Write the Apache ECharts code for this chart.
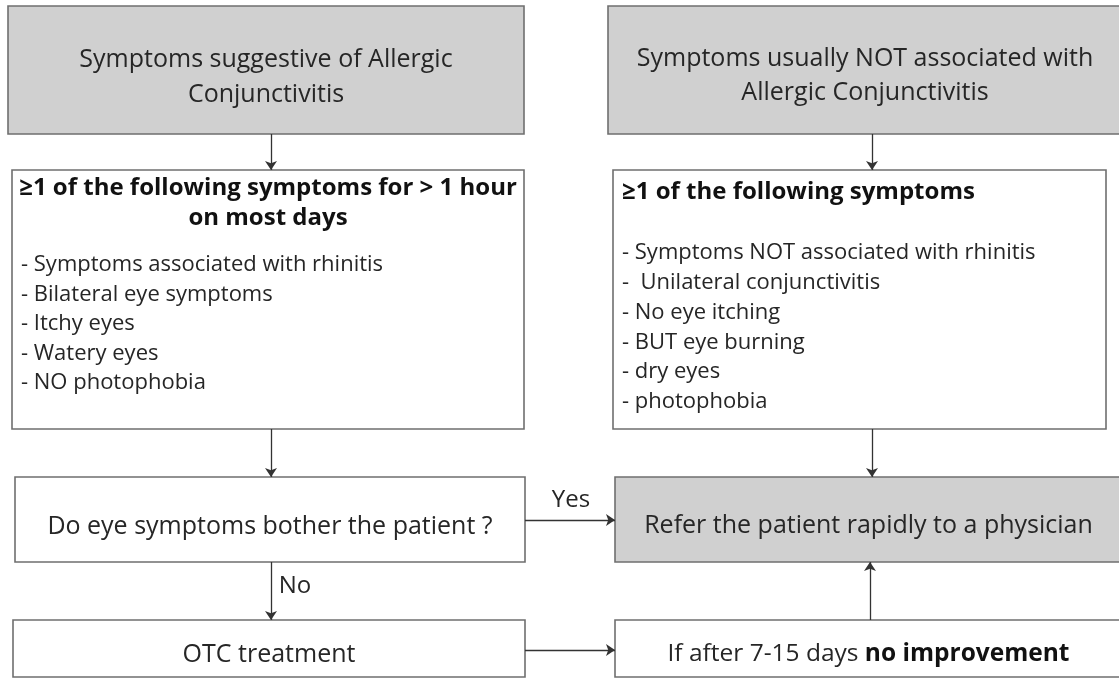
<!DOCTYPE html>
<html>
<head>
<meta charset="utf-8">
<script src="https://cdn.jsdelivr.net/npm/echarts@6/dist/echarts.min.js"></script>
<style>
  html, body { margin: 0; padding: 0; background: #fff; }
  #flow { width: 1119px; height: 679px; }
</style>
</head>
<body>
<div id="flow"></div>
<script>
// texts of the flowchart
const startTitles = [
    'Symptoms suggestive of Allergic\nConjunctivitis',
    'Symptoms usually NOT associated with\nAllergic Conjunctivitis'
]
const leftHeading = '≥1 of the following symptoms for > 1 hour\non most days'
const leftSymptoms = [
    '- Symptoms associated with rhinitis',
    '- Bilateral eye symptoms',
    '- Itchy eyes',
    '- Watery eyes',
    '- NO photophobia'
]
const rightHeading = '≥1 of the following symptoms'
const rightSymptoms = [
    '- Symptoms NOT associated with rhinitis',
    '-  Unilateral conjunctivitis',
    '- No eye itching',
    '- BUT eye burning',
    '- dry eyes',
    '- photophobia'
]
const question = 'Do eye symptoms bother the patient ?'
const referText = 'Refer the patient rapidly to a physician'
const otcText = 'OTC treatment'
const followUp = ['If after 7-15 days ', 'no improvement']
const branchLabels = ['Yes', 'No']

// layout (canvas pixels, used through hidden value axes)
const boxLayout = [
    { rect: [8, 6, 524, 134], fill: '#d0d0d0' },
    { rect: [608, 6, 1122, 134], fill: '#d0d0d0' },
    { rect: [12, 170, 524, 429], fill: '#fff' },
    { rect: [613, 170, 1106, 429], fill: '#fff' },
    { rect: [15, 477, 525, 562], fill: '#fff' },
    { rect: [615, 477, 1122, 562], fill: '#d0d0d0' },
    { rect: [13, 620, 525, 677], fill: '#fff' },
    { rect: [615, 620, 1122, 677], fill: '#fff' }
]
const arrowLayout = [
    [[271, 134], [271, 170]],
    [[872, 134], [872, 170]],
    [[271, 429], [271, 477]],
    [[872, 429], [872, 477]],
    [[525, 520], [615, 520]],
    [[271, 562], [271, 620]],
    [[525, 650], [615, 650]],
    [[870, 620], [870, 562]]
]
const branchPos = [[571, 500], [295, 586]]

const FONT = '"Open Sans", Lato, sans-serif'
const INK = '#262626'

// what goes in each box
var boxTexts = [
    { kind: 'center', text: startTitles[0], size: 25, lh: 35, dy: 7 },
    { kind: 'center', text: startTitles[1], size: 25, lh: 34, dy: 6 },
    { kind: 'list', heading: leftHeading, headAlign: 'center', headY: 203, list: leftSymptoms, listTop: 265, step: 29.5 },
    { kind: 'list', heading: rightHeading, headAlign: 'left', headY: 192, list: rightSymptoms, listTop: 253, step: 29.8 },
    { kind: 'center', text: question, size: 25, lh: 30, dy: 7 },
    { kind: 'center', text: referText, size: 25, lh: 30, dy: 6 },
    { kind: 'center', text: otcText, size: 25, lh: 30, dy: 6 },
    { kind: 'rich', parts: followUp, size: 24.5, dy: 6 }
]

var chart = echarts.init(document.getElementById('flow'))

function renderBox(params, api) {
    var i = params.dataIndex
    var r = boxLayout[i].rect
    var p0 = api.coord([r[0], r[1]])
    var p1 = api.coord([r[2], r[3]])
    var cx = (p0[0] + p1[0]) / 2
    var t = boxTexts[i]
    var cy = (p0[1] + p1[1]) / 2 + (t.dy || 0)
    var children = [{
        type: 'rect',
        shape: { x: p0[0], y: p0[1], width: p1[0] - p0[0], height: p1[1] - p0[1] },
        style: { fill: boxLayout[i].fill, stroke: '#6f6f6f', lineWidth: 1.6 }
    }]
    if (t.kind === 'center') {
        children.push({
            type: 'text',
            style: {
                x: cx, y: cy, text: t.text, align: 'center', verticalAlign: 'middle',
                font: t.size + 'px ' + FONT, lineHeight: t.lh, fill: INK
            }
        })
    } else if (t.kind === 'rich') {
        children.push({
            type: 'text',
            style: {
                x: cx, y: cy, align: 'center', verticalAlign: 'middle',
                text: '{n|' + t.parts[0] + '}{b|' + t.parts[1] + '}',
                rich: {
                    n: { fontFamily: FONT, fontSize: t.size, fill: INK },
                    b: { fontFamily: FONT, fontSize: t.size, fontWeight: 'bold', fill: '#111' }
                }
            }
        })
    } else {
        var left = p0[0] + 9
        var hy = api.coord([0, t.headY])[1]
        children.push({
            type: 'text',
            style: {
                x: t.headAlign === 'center' ? cx : left, y: hy,
                text: t.heading, align: t.headAlign, verticalAlign: 'middle',
                font: 'bold 24px ' + FONT, lineHeight: 30, fill: '#111'
            }
        })
        t.list.forEach(function (line, k) {
            var ly = api.coord([0, t.listTop + k * t.step])[1]
            children.push({
                type: 'text',
                style: {
                    x: left, y: ly, text: line, align: 'left', verticalAlign: 'middle',
                    font: '22px ' + FONT, fill: INK
                }
            })
        })
    }
    return { type: 'group', children: children }
}

function renderBranch(params, api) {
    var p = api.coord([api.value(0), api.value(1)])
    return {
        type: 'text',
        style: {
            x: p[0], y: p[1], text: branchLabels[params.dataIndex],
            align: 'center', verticalAlign: 'middle',
            font: '24px ' + FONT, fill: INK
        }
    }
}

var option = {
    animation: false,
    grid: { left: 0, right: 0, top: 0, bottom: 0 },
    xAxis: { type: 'value', min: 0, max: 1119, show: false },
    yAxis: { type: 'value', min: 0, max: 679, inverse: true, show: false },
    series: [
        {
            type: 'custom',
            name: 'boxes',
            renderItem: renderBox,
            data: boxLayout.map(function (b) { return b.rect }),
            encode: { x: [0, 2], y: [1, 3] },
            clip: false
        },
        {
            type: 'lines',
            name: 'arrows',
            coordinateSystem: 'cartesian2d',
            symbol: ['none', 'arrow'],
            symbolSize: 9,
            lineStyle: { color: '#333', width: 1.3, opacity: 1 },
            data: arrowLayout.map(function (c) { return { coords: c } }),
            z: 5
        },
        {
            type: 'custom',
            name: 'branches',
            renderItem: renderBranch,
            data: branchPos,
            z: 6
        }
    ]
}

chart.setOption(option)
</script>
</body>
</html>
